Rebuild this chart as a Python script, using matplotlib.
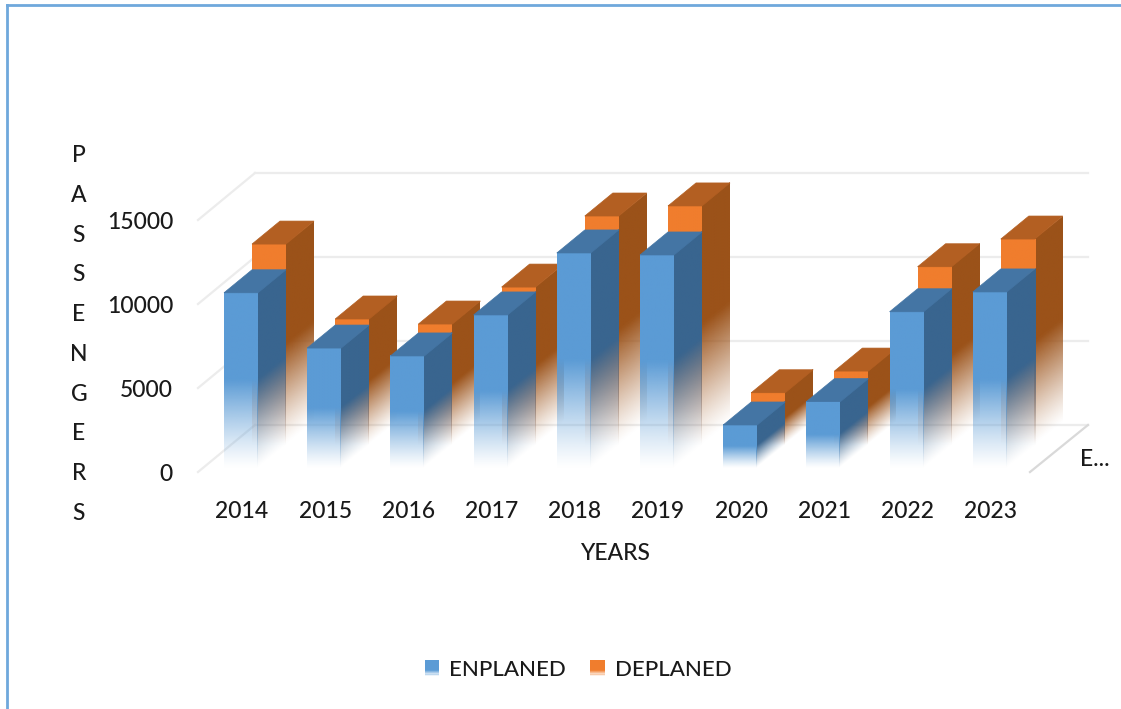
import numpy as np
import matplotlib
matplotlib.use("Agg")
import matplotlib.pyplot as plt
from matplotlib.colors import to_rgb
from matplotlib.legend_handler import HandlerBase
from matplotlib.lines import Line2D
from matplotlib.patches import Patch, Polygon, Rectangle
from matplotlib.transforms import Affine2D, ScaledTranslation

#-----------data-----------------------
years = [2014, 2015, 2016, 2017, 2018, 2019, 2020, 2021, 2022, 2023]
enplaned = [10430, 7140, 6670, 9110, 12800, 12680, 2560, 3950, 9300, 10480]
deplaned = [11960, 7500, 7200, 9400, 13630, 14230, 3110, 4400, 10610, 12260]
y_ticks = [0, 5000, 10000, 15000]

#-----------tuning-----------------------
W, H = 1121, 709
px_per_cat = 83.2      # pixels between two years
px_per_unit = 0.0168   # pixels per passenger
bar_w = 34 / px_per_cat
depth_x = 28 / px_per_cat
depth_y = 23 / px_per_unit
one_px = 1 / px_per_cat
fade_part = 0.5        # lower part of each bar that fades out
font = "Lato"
fs = 16.5
txt_col = "#1a1a1a"

blue = ("#5B9BD5", "#39658F", "#4475A4")
orange = ("#F07D2D", "#9B5219", "#B35F22")


def fade_image(col, n=80):
    f = (np.arange(n) + 0.5) / n
    rgba = np.zeros((n, 2, 4))
    rgba[:, :, :3] = to_rgb(col)
    rgba[:, :, 3] = (np.clip(f / fade_part, 0, 1) ** 1.2)[:, None]
    return rgba


def draw_face(ax, col, a, b, d, e, f, z):
    # unit square mapped on the face, so the fade follows the skew
    skew = Affine2D.from_values(a, b, 0, d, e, f)
    ax.imshow(fade_image(col), extent=(0, 1, 0, 1), origin="lower", aspect="auto",
              interpolation="bilinear", transform=skew + ax.transData, zorder=z)


def draw_bar(ax, x0, v, cols, lift, z):
    x1 = x0 + bar_w
    # side goes a pixel under the front so no light seam shows between them
    draw_face(ax, cols[1], depth_x + one_px, depth_y, v, x1 - one_px, lift, z)
    draw_face(ax, cols[0], bar_w, 0, v, x0, lift, z)
    ax.add_patch(Polygon([(x0, v + lift), (x1, v + lift), (x1 + depth_x, v + lift + depth_y),
                          (x0 + depth_x, v + lift + depth_y)], closed=True,
                         fc=cols[2], ec=cols[2], lw=0.5, zorder=z))


class FadeHandle(HandlerBase):
    def create_artists(self, legend, orig, xd, yd, w, h, fontsize, trans):
        out = []
        n = 12
        for k in range(n):
            a = min(1, (k + 0.5) / n / 0.4)
            out.append(Rectangle((-xd, -yd + h * k / n), w, h / n + 0.2, fc=orig.get_facecolor(),
                                 ec="none", alpha=a, transform=trans))
        return out


plt.rcParams["font.family"] = [font, "DejaVu Sans"]
plt.rcParams["font.weight"] = "medium"
fig = plt.figure(figsize=(W / 100, H / 100), dpi=100)
left, right, base, top = 180, W, 468, 100
ax = fig.add_axes([left / W, (H - base) / H, (right - left) / W, (base - top) / H])
ax.patch.set_alpha(0)

#--------back wall and floor lines----------------
grid_col = "#ececec"
wall_l, wall_r = 0.168, 10.18
front_l = -0.517
for v in y_ticks:
    ax.plot([wall_l, wall_r], [v + 2560, v + 2560], color=grid_col, lw=1.6, zorder=1, clip_on=False)
    ax.plot([front_l, wall_l], [v - 240, v + 2560], color=grid_col, lw=1.6, zorder=1, clip_on=False)
ax.plot([9.483, wall_r], [-240, 2560], color="#d9d9d9", lw=1.6, zorder=1, clip_on=False)

#--------bars, back row first----------------
for i, v in enumerate(deplaned):
    draw_bar(ax, i - bar_w / 2 + depth_x, v, orange, depth_y, 2)
for i, v in enumerate(enplaned):
    draw_bar(ax, i - bar_w / 2, v, blue, 0, 3)

#--------axes----------------
ax.set_xlim((left - 241) / px_per_cat, (right - 241) / px_per_cat)
ax.set_ylim(0, (base - top) / px_per_unit)
for s in ax.spines.values():
    s.set_visible(False)
ax.set_xticks(range(len(years)))
ax.set_xticklabels(years, fontsize=fs, color=txt_col)
ax.set_yticks(y_ticks)
ax.set_yticklabels(y_ticks, fontsize=fs, color=txt_col)
ax.tick_params(axis="x", length=0, pad=24)
ax.tick_params(axis="y", length=0, pad=5)
shift_y = ScaledTranslation(0, -4.5 / 100, fig.dpi_scale_trans)
shift_x = ScaledTranslation(1 / 100, 0, fig.dpi_scale_trans)
for lab in ax.get_yticklabels():
    lab.set_transform(lab.get_transform() + shift_y)
for lab in ax.get_xticklabels():
    lab.set_transform(lab.get_transform() + shift_x)

fig.text(615 / W, 1 - 553 / H, "YEARS", fontsize=fs, color=txt_col, ha="center", va="center")
fig.text(79 / W, 1 - 334.5 / H, "\n".join("PASSENGERS"), fontsize=fs, color=txt_col,
         ha="center", va="center", linespacing=2.1)
fig.text(1080 / W, 1 - 460 / H, "E...", fontsize=fs, color=txt_col, ha="left", va="center")

handles = [Patch(fc=blue[0], label="ENPLANED"), Patch(fc=orange[0], label="DEPLANED")]
fig.legend(handles=handles, handler_map={Patch: FadeHandle()}, loc="center",
           bbox_to_anchor=(578 / W, 1 - 670 / H), ncol=2, frameon=False, fontsize=16,
           handlelength=0.65, handleheight=0.7, handletextpad=0.45, columnspacing=1.1,
           labelcolor=txt_col)

#--------frame, only top and left show----------------
frame = "#6FA8DC"
fig.add_artist(Line2D([7 / W, 7 / W], [0, 1 - 5 / H], color=frame, lw=2.0, solid_capstyle="projecting"))
fig.add_artist(Line2D([7 / W, 1], [1 - 5 / H, 1 - 5 / H], color=frame, lw=2.0, solid_capstyle="projecting"))

fig.savefig("out.png", dpi=100)
